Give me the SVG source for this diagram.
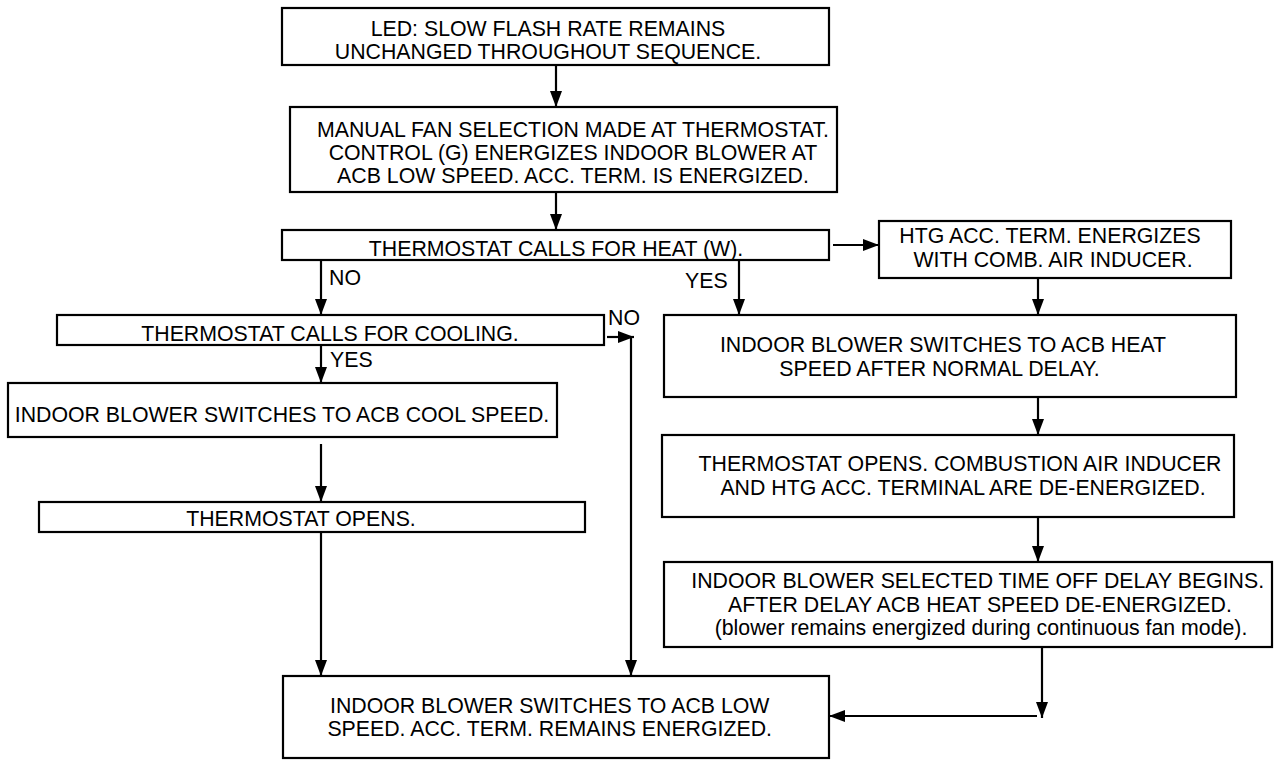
<svg xmlns="http://www.w3.org/2000/svg" width="1275" height="760" viewBox="0 0 1275 760">
<style>
  .box { fill: #ffffff; stroke: #000000; stroke-width: 2.2; }
  .t { font-family: "Liberation Sans", Arial, sans-serif; font-size: 21.3px; fill: #000000; text-anchor: middle; }
  .lbl { font-family: "Liberation Sans", Arial, sans-serif; font-size: 21.3px; fill: #000000; }
  .c { fill: none; stroke: #000000; stroke-width: 2.2; marker-end: url(#ah); }
  .cn { fill: none; stroke: #000000; stroke-width: 2.2; }
</style>
<defs>
  <marker id="ah" markerWidth="16" markerHeight="12" refX="16" refY="6" orient="auto" markerUnits="userSpaceOnUse">
    <path d="M0,0 L16,6 L0,12 z" fill="#000000"/>
  </marker>
</defs>
<rect x="0" y="0" width="1275" height="760" fill="#ffffff"/>

<g id="connectors">
  <line class="c" x1="556" y1="65" x2="556" y2="107"/>
  <line class="c" x1="556" y1="192" x2="556" y2="230"/>
  <line class="c" x1="833" y1="245" x2="879" y2="245"/>
  <line class="c" x1="1038" y1="278" x2="1038" y2="315"/>
  <line class="c" x1="739" y1="260" x2="739" y2="315"/>
  <line class="c" x1="1038" y1="397" x2="1038" y2="435"/>
  <line class="c" x1="1038" y1="517" x2="1038" y2="562"/>
  <line class="c" x1="1042" y1="647" x2="1042" y2="718"/>
  <line class="c" x1="1037" y1="716" x2="829" y2="716"/>
  <line class="c" x1="321" y1="260" x2="321" y2="315"/>
  <line class="c" x1="321" y1="345" x2="321" y2="383"/>
  <line class="c" x1="321" y1="444" x2="321" y2="502"/>
  <line class="c" x1="321" y1="532" x2="321" y2="676"/>
  <line class="c" x1="607" y1="337" x2="634" y2="337"/>
  <line class="c" x1="631" y1="336" x2="631" y2="676"/>
  <text class="lbl" x="329" y="285">NO</text>
  <text class="lbl" x="685" y="288">YES</text>
  <text class="lbl" x="330" y="367">YES</text>
  <text class="lbl" x="608" y="325">NO</text>
</g>

<g id="led">
  <rect class="box" x="282" y="8" width="547" height="57"/>
  <text class="t" x="548" y="36">LED: SLOW FLASH RATE REMAINS</text>
  <text class="t" x="548" y="58.5">UNCHANGED THROUGHOUT SEQUENCE.</text>
</g>

<g id="manual-fan">
  <rect class="box" x="290" y="107" width="547" height="85"/>
  <text class="t" x="573" y="136.5">MANUAL FAN SELECTION MADE AT THERMOSTAT.</text>
  <text class="t" x="573" y="159.5">CONTROL (G) ENERGIZES INDOOR BLOWER AT</text>
  <text class="t" x="573" y="182.5">ACB LOW SPEED. ACC. TERM. IS ENERGIZED.</text>
</g>

<g id="calls-heat">
  <rect class="box" x="282" y="230" width="547" height="30"/>
  <text class="t" x="556" y="256">THERMOSTAT CALLS FOR HEAT (W).</text>
</g>

<g id="htg-acc">
  <rect class="box" x="879" y="221" width="352" height="57"/>
  <text class="t" x="1050" y="243.3">HTG ACC. TERM. ENERGIZES</text>
  <text class="t" x="1053" y="266.7">WITH COMB. AIR INDUCER.</text>
</g>

<g id="heat-speed">
  <rect class="box" x="664" y="315" width="572" height="82"/>
  <text class="t" x="943" y="351.7">INDOOR BLOWER SWITCHES TO ACB HEAT</text>
  <text class="t" x="939.5" y="375.7">SPEED AFTER NORMAL DELAY.</text>
</g>

<g id="heat-opens">
  <rect class="box" x="662" y="435" width="572" height="82"/>
  <text class="t" x="960" y="471">THERMOSTAT OPENS. COMBUSTION AIR INDUCER</text>
  <text class="t" x="963" y="494.5">AND HTG ACC. TERMINAL ARE DE-ENERGIZED.</text>
</g>

<g id="off-delay">
  <rect class="box" x="664" y="562" width="608" height="85"/>
  <text class="t" x="977.7" y="587.7">INDOOR BLOWER SELECTED TIME OFF DELAY BEGINS.</text>
  <text class="t" x="980" y="611.5">AFTER DELAY ACB HEAT SPEED DE-ENERGIZED.</text>
  <text class="t" x="981" y="634.5">(blower remains energized during continuous fan mode).</text>
</g>

<g id="calls-cooling">
  <rect class="box" x="57" y="315" width="547" height="30"/>
  <text class="t" x="330" y="341">THERMOSTAT CALLS FOR COOLING.</text>
</g>

<g id="cool-speed">
  <rect class="box" x="8" y="383" width="549" height="54"/>
  <text class="t" x="282" y="422">INDOOR BLOWER SWITCHES TO ACB COOL SPEED.</text>
</g>

<g id="cool-opens">
  <rect class="box" x="39" y="502" width="546" height="30"/>
  <text class="t" x="301" y="526">THERMOSTAT OPENS.</text>
</g>

<g id="low-speed">
  <rect class="box" x="283" y="676" width="546" height="82"/>
  <text class="t" x="549.7" y="713">INDOOR BLOWER SWITCHES TO ACB LOW</text>
  <text class="t" x="549.7" y="736">SPEED. ACC. TERM. REMAINS ENERGIZED.</text>
</g>
</svg>
